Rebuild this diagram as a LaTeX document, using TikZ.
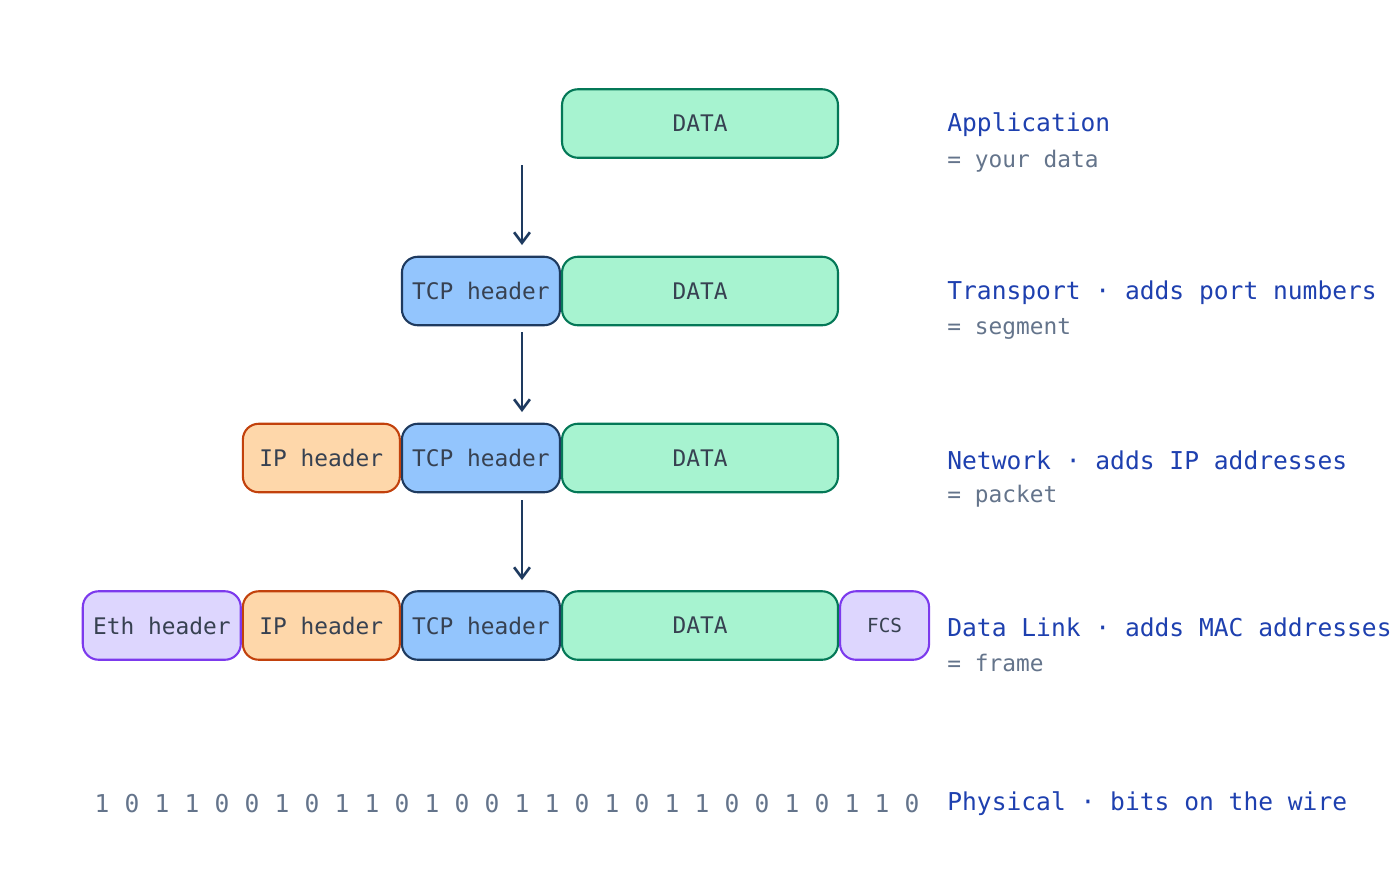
\documentclass[tikz,border=0pt]{standalone}
\usepackage{fontspec}
\setmonofont{DejaVu Sans Mono}
\usetikzlibrary{positioning,arrows.meta}
\definecolor{datafill}{HTML}{A7F3D0}\definecolor{dataline}{HTML}{047857}
\definecolor{tcpfill}{HTML}{93C5FD}\definecolor{tcpline}{HTML}{1E3A5F}
\definecolor{ipfill}{HTML}{FED7AA}\definecolor{ipline}{HTML}{C2410C}
\definecolor{ethfill}{HTML}{DDD6FE}\definecolor{ethline}{HTML}{7C3AED}
\definecolor{boxtext}{HTML}{374151}
\definecolor{titletext}{HTML}{1E40AF}
\definecolor{subtext}{HTML}{64748B}
\tikzset{
  blk/.style={draw, line width=1.2pt, rounded corners=9pt, minimum height=1.37cm,
    inner sep=0pt, text=boxtext, font=\ttfamily\fontsize{13}{15}\selectfont},
  data/.style={blk, fill=datafill, draw=dataline, minimum width=5.52cm},
  tcp/.style={blk, fill=tcpfill, draw=tcpline, minimum width=3.16cm},
  ip/.style={blk, fill=ipfill, draw=ipline, minimum width=3.14cm},
  eth/.style={blk, fill=ethfill, draw=ethline, minimum width=3.16cm},
  fcs/.style={blk, fill=ethfill, draw=ethline, minimum width=1.78cm,
    font=\ttfamily\fontsize{11}{13}\selectfont},
  layer/.style={anchor=west, inner sep=0pt, text=titletext,
    font=\ttfamily\fontsize{14}{16}\selectfont},
  pdu/.style={anchor=west, inner sep=0pt, text=subtext,
    font=\ttfamily\fontsize{13}{15}\selectfont},
  down/.style={-{Straight Barb[length=6pt,width=9pt]}, line width=1.5pt, draw=tcpline}
}
\begin{document}
\begin{tikzpicture}[x=0.02cm, y=-0.02cm]
  \useasboundingbox (0,0) rectangle (1400,887);
  % application
  \node[data] (data1) at (700,123.5) {DATA};
  \node[layer] (app) at (947,125) {Application};
  \node[pdu] (appsub) at (947,161) {= your data};
  % transport
  \node[data] (data2) at (700,291) {DATA};
  \node[tcp] (tcp2) [left=0pt of data2] {TCP header};
  \node[layer] (trans) at (947,293) {Transport · adds port numbers};
  \node[pdu] (transsub) at (947,329) {= segment};
  % network
  \node[data] (data3) at (700,458) {DATA};
  \node[tcp] (tcp3) [left=0pt of data3] {TCP header};
  \node[ip] (ip3) [left=0pt of tcp3] {IP header};
  \node[layer] (net) at (947,460) {Network · adds IP addresses};
  \node[pdu] (netsub) at (947,496) {= packet};
  % data link
  \node[data] (data4) at (700,625.5) {DATA};
  \node[tcp] (tcp4) [left=0pt of data4] {TCP header};
  \node[ip] (ip4) [left=0pt of tcp4] {IP header};
  \node[eth] (eth4) [left=0pt of ip4] {Eth header};
  \node[fcs] (fcs4) [right=0pt of data4] {FCS};
  \node[layer] (link) at (947,627) {Data Link · adds MAC addresses};
  \node[pdu] (linksub) at (947,663) {= frame};
  % physical
  \foreach \b [count=\i] in {1,0,1,1,0,0,1,0,1,1,0,1,0,0,1,1,0,1,0,1,1,0,0,1,0,1,1,0}
    \node[text=subtext, font=\ttfamily\fontsize{14}{16}\selectfont, inner sep=0pt]
      (bit\i) at (72+30*\i,804) {\b};
  \node[layer] (phys) at (947,804) {Physical · bits on the wire};
  % arrows
  \coordinate (a1) at (522,165); \coordinate (b1) at (522,245);
  \coordinate (a2) at (522,332); \coordinate (b2) at (522,412);
  \coordinate (a3) at (522,500); \coordinate (b3) at (522,580);
  \foreach \i in {1,2,3}
    \draw[down] (a\i) -- (b\i);
\end{tikzpicture}
\end{document}
